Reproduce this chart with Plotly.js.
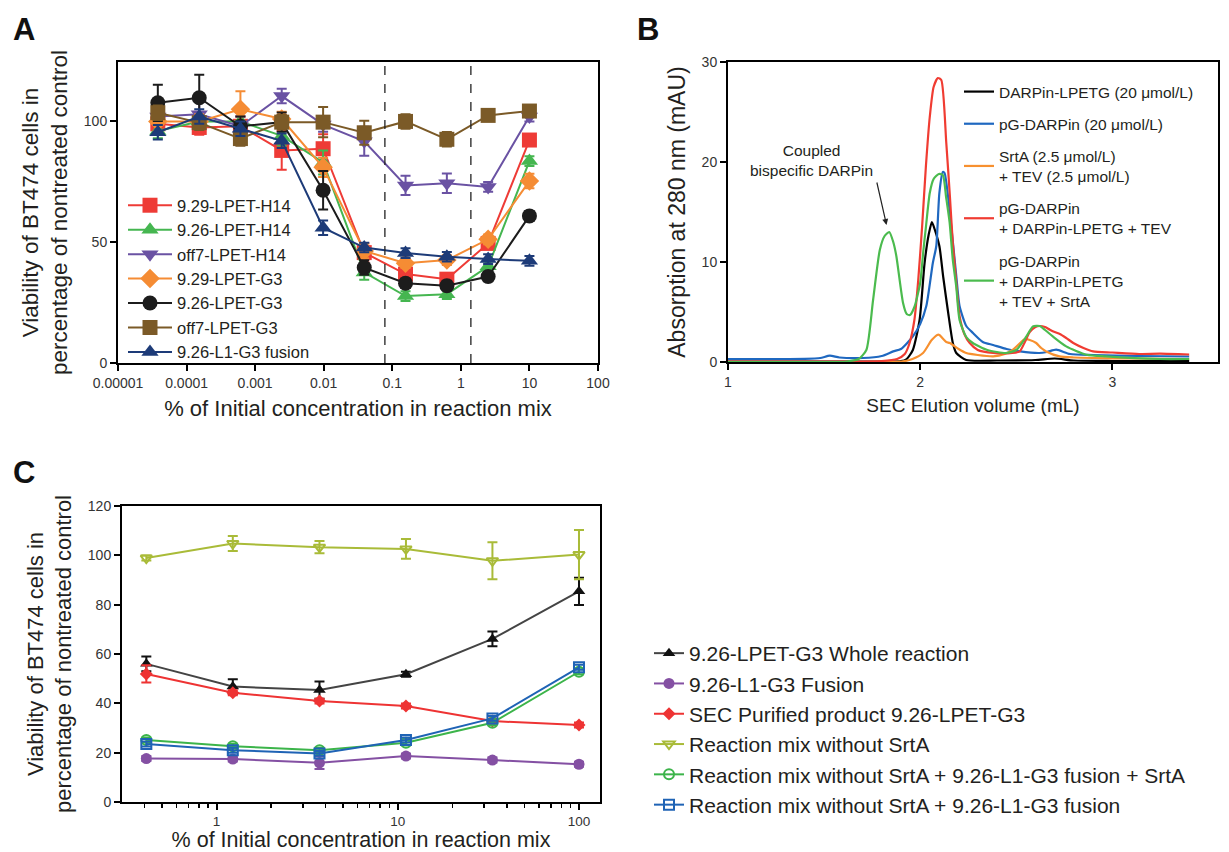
<!DOCTYPE html>
<html>
<head>
<meta charset="utf-8">
<script src="https://cdn.plot.ly/plotly-3.0.1.min.js"></script>
<style>
html,body{margin:0;padding:0;background:#fff;}
#chart{width:1229px;height:852px;}
</style>
</head>
<body>
<div id="chart"></div>
<script>
// ---------- Panel A data ----------
const concA = [0.0000381, 0.000153, 0.00061, 0.00244, 0.0098, 0.039, 0.156, 0.625, 2.5, 10];
const seriesA_names = ["9.29-LPET-H14","9.26-LPET-H14","off7-LPET-H14","9.29-LPET-G3","9.26-LPET-G3","off7-LPET-G3","9.26-L1-G3 fusion"];
const a_929H14 = [99, 97.5, 98, 88, 88.7, 45.7, 36.8, 34.7, 49.5, 92.3];
const a_926H14 = [96, 100, 100, 94, 83, 37.5, 27.7, 28.5, 40, 83.6];
const a_off7H14 = [102, 103, 98, 110.5, 98.7, 91.8, 73.5, 74.4, 72.9, 102];
const a_929G3 = [100, 100, 105, 101, 81, 46.4, 41.3, 42.6, 51.2, 75.3];
const a_926G3 = [107.7, 109.8, 98, 99.7, 71.5, 39.5, 33, 32, 35.8, 60.9];
const a_off7G3 = [103.6, 99.5, 92.9, 99.7, 99.7, 95.3, 100, 92.6, 102.5, 104.3];
const a_926L1 = [95.5, 102, 97, 92, 56, 47.8, 45.5, 44, 43, 42.3];
const e_929H14 = [3, 3, 4, 8, 6, 4, 3, 2, 2, 2];
const e_926H14 = [3, 3, 4, 4, 5, 3, 2, 2, 2, 2];
const e_off7H14 = [3, 5, 4, 3, 3, 6, 4, 4, 2, 2];
const e_929G3 = [4, 3, 7.5, 3, 4, 3, 2, 2, 2, 3];
const e_926G3 = [7.5, 9.5, 4, 4, 8, 3, 2, 2, 2, 2];
const e_off7G3 = [3, 3, 3, 3, 6.3, 5, 3, 3, 2, 2];
const e_926L1 = [3, 3, 3, 3, 3, 2, 2, 2, 2, 2];
const dividersA = [0.078, 1.4];
const tickValsA = [0.00001, 0.0001, 0.001, 0.01, 0.1, 1, 10, 100];
const tickTextA = ["0.00001", "0.0001", "0.001", "0.01", "0.1", "1", "10", "100"];

// ---------- Panel B data ----------
const b_black_x = [1.0, 1.3, 1.6, 1.8, 1.9, 1.93, 1.962, 1.997, 2.023, 2.045, 2.061, 2.075, 2.10, 2.12, 2.146, 2.17, 2.188, 2.24, 2.4, 2.6, 2.7, 2.8, 3.0, 3.4];
const b_black_y = [0.05, 0.05, 0.05, 0.05, 0.08, 0.3, 1.2, 4.2, 9.9, 12.8, 14.0, 13.3, 11.6, 8.5, 4.9, 1.9, 0.9, 0.2, 0.15, 0.2, 0.35, 0.15, 0.1, 0.1];
const b_blue_x = [1.0, 1.2, 1.4, 1.48, 1.53, 1.58, 1.7, 1.8, 1.86, 1.9, 1.962, 2.0, 2.032, 2.066, 2.084, 2.1, 2.118, 2.127, 2.153, 2.188, 2.205, 2.24, 2.275, 2.326, 2.38, 2.45, 2.52, 2.62, 2.66, 2.708, 2.78, 2.9, 3.14, 3.4];
const b_blue_y = [0.3, 0.3, 0.32, 0.4, 0.63, 0.45, 0.4, 0.6, 1.06, 1.3, 2.56, 3.8, 5.6, 9.9, 11.6, 16.9, 19.0, 18.9, 15.2, 8.6, 5.6, 3.6, 2.9, 2.0, 1.7, 1.3, 1.06, 0.9, 1.0, 1.23, 0.8, 0.7, 0.6, 0.55];
const b_orange_x = [1.0, 1.6, 1.91, 1.96, 2.015, 2.06, 2.092, 2.1, 2.136, 2.154, 2.2, 2.24, 2.3, 2.38, 2.44, 2.483, 2.52, 2.544, 2.57, 2.604, 2.63, 2.656, 2.725, 2.8, 2.9, 3.1, 3.4];
const b_orange_y = [0.0, 0.0, 0.06, 0.3, 0.9, 2.2, 2.73, 2.7, 2.0, 1.9, 1.3, 0.9, 0.7, 0.56, 0.8, 1.23, 1.9, 2.3, 2.2, 1.9, 1.4, 1.06, 0.56, 0.45, 0.4, 0.35, 0.3];
const b_red_x = [1.0, 1.5, 1.8, 1.88, 1.92, 1.945, 1.97, 1.99, 2.01, 2.03, 2.05, 2.07, 2.092, 2.11, 2.136, 2.155, 2.17, 2.19, 2.205, 2.23, 2.258, 2.3, 2.38, 2.48, 2.518, 2.545, 2.57, 2.6, 2.622, 2.65, 2.675, 2.7, 2.727, 2.76, 2.797, 2.85, 2.9, 3.0, 3.14, 3.25, 3.4];
const b_red_y = [0.05, 0.05, 0.1, 0.3, 0.8, 1.9, 4.2, 8.2, 13.5, 19.6, 24.5, 27.5, 28.4, 28.2, 21.9, 16.5, 11.9, 7.5, 4.6, 2.8, 1.9, 1.2, 0.9, 0.9, 1.06, 2.0, 3.0, 3.5, 3.6, 3.5, 3.23, 3.0, 2.8, 2.4, 1.9, 1.4, 1.06, 0.95, 0.8, 0.83, 0.75];
const b_green_x = [1.0, 1.4, 1.6, 1.62, 1.68, 1.72, 1.755, 1.79, 1.815, 1.839, 1.86, 1.876, 1.911, 1.93, 1.947, 1.97, 2.0, 2.016, 2.03, 2.05, 2.07, 2.097, 2.118, 2.135, 2.153, 2.17, 2.188, 2.205, 2.24, 2.274, 2.35, 2.447, 2.5, 2.553, 2.587, 2.622, 2.65, 2.69, 2.76, 2.866, 2.967, 3.25, 3.4];
const b_green_y = [0.0, 0.0, 0.0, 0.05, 0.3, 1.2, 6.2, 11.2, 12.6, 13.0, 12.0, 10.6, 5.9, 4.8, 4.7, 5.5, 7.9, 11.0, 13.5, 16.9, 18.3, 18.8, 18.7, 16.5, 14.0, 10.2, 7.5, 4.2, 2.5, 1.9, 1.2, 0.9, 1.2, 2.56, 3.56, 3.6, 3.2, 2.56, 1.56, 0.73, 0.56, 0.3, 0.3];
const b_names = ["DARPin-LPETG (20 μmol/L)", "pG-DARPin (20 μmol/L)", "SrtA (2.5 μmol/L)<br>+ TEV (2.5 μmol/L)", "pG-DARPin<br>+ DARPin-LPETG + TEV", "pG-DARPin<br>+ DARPin-LPETG<br>+ TEV + SrtA"];

// ---------- Panel C data ----------
const concC = [0.41, 1.23, 3.7, 11.1, 33.3, 100];
const c_whole = [56, 46.8, 45.4, 51.8, 66.1, 85.4];
const c_fusion = [17.6, 17.4, 15.9, 18.6, 17, 15.3];
const c_sec = [51.9, 44.3, 40.9, 38.9, 32.8, 31.2];
const c_noSrtA = [98.9, 104.8, 103.3, 102.6, 97.8, 100.3];
const c_noSrtA_fus_SrtA = [25.1, 22.6, 21, 24, 32.1, 52.8];
const c_noSrtA_fus = [23.5, 21, 19.7, 25.1, 33.9, 54.6];
const ce_whole = [3, 3, 3.5, 1, 3, 5.5];
const ce_fusion = [1, 1, 2.5, 1, 1, 1];
const ce_sec = [3.5, 1, 1, 1, 1, 1];
const ce_noSrtA = [1, 3, 2.5, 4, 7.5, 10];
const ce_noSrtA_fus_SrtA = [1, 1, 1, 1, 1, 1];
const ce_noSrtA_fus = [1, 1, 1, 1, 1, 1];
const c_names = ["9.26-LPET-G3 Whole reaction", "9.26-L1-G3 Fusion", "SEC Purified product 9.26-LPET-G3", "Reaction mix without SrtA", "Reaction mix without SrtA + 9.26-L1-G3 fusion + SrtA", "Reaction mix without SrtA + 9.26-L1-G3 fusion"];
const tickValsC = [1, 10, 100];
const minorC = [0.4,0.5,0.6,0.7,0.8,0.9,2,3,4,5,6,7,8,9,20,30,40,50,60,70,80,90];

// ---------- styling ----------
const FONT = 'Arial, "Liberation Sans", Helvetica, sans-serif';
const TXT = '#231f20';

function seriesA(y, err, name, color, symbol, size) {
  return {
    x: concA, y: y, name: name, type: 'scatter', mode: 'lines+markers',
    xaxis: 'x', yaxis: 'y', legend: 'legend',
    line: {color: color, width: 2},
    marker: {color: color, symbol: symbol, size: size},
    error_y: {type: 'data', array: err, visible: true, color: color, thickness: 2, width: 5}
  };
}
function seriesB(x, y, name, color) {
  return {x: x, y: y, name: name, type: 'scatter', mode: 'lines', xaxis: 'x2', yaxis: 'y2', legend: 'legend2',
    legendgroup: name,
    line: {color: color, width: 2.2, shape: 'spline', smoothing: 0.6}};
}
function seriesC(y, err, name, color, lineColor, symbol, size, open) {
  return {
    x: concC, y: y, name: name, type: 'scatter', mode: 'lines+markers',
    xaxis: 'x3', yaxis: 'y3', legend: 'legend3',
    line: {color: lineColor, width: 2},
    marker: {color: open ? 'rgba(255,255,255,0)' : color, symbol: symbol, size: size,
             line: {color: color, width: open ? 2 : 0}},
    error_y: {type: 'data', array: err, visible: true, color: color, thickness: 2, width: 5}
  };
}

const traces = [
  seriesA(a_929H14, e_929H14, seriesA_names[0], '#ee3b36', 'square', 15),
  seriesA(a_926H14, e_926H14, seriesA_names[1], '#45b650', 'triangle-up', 15),
  seriesA(a_off7H14, e_off7H14, seriesA_names[2], '#6a52a3', 'triangle-down', 15),
  seriesA(a_929G3, e_929G3, seriesA_names[3], '#f58c34', 'diamond', 15),
  seriesA(a_926G3, e_926G3, seriesA_names[4], '#1c1c1c', 'circle', 15),
  seriesA(a_off7G3, e_off7G3, seriesA_names[5], '#7b5a27', 'square', 15),
  seriesA(a_926L1, e_926L1, seriesA_names[6], '#1d3b78', 'triangle-up', 15),

  seriesB(b_black_x, b_black_y, b_names[0], '#000000'),
  seriesB(b_blue_x, b_blue_y, b_names[1], '#1f68c0'),
  seriesB(b_orange_x, b_orange_y, b_names[2], '#f7902f'),
  seriesB(b_red_x, b_red_y, b_names[3], '#f03c32'),
  seriesB(b_green_x, b_green_y, b_names[4], '#4bbb4e'),

  seriesC(c_whole, ce_whole, c_names[0], '#111111', '#444444', 'triangle-up', 11, false),
  seriesC(c_fusion, ce_fusion, c_names[1], '#8450a3', '#8450a3', 'circle', 11, false),
  seriesC(c_sec, ce_sec, c_names[2], '#ee3333', '#ee3333', 'diamond', 10, false),
  seriesC(c_noSrtA, ce_noSrtA, c_names[3], '#a9bb38', '#a9bb38', 'triangle-down', 10, true),
  seriesC(c_noSrtA_fus_SrtA, ce_noSrtA_fus_SrtA, c_names[4], '#3cb44a', '#3cb44a', 'circle', 10, true),
  seriesC(c_noSrtA_fus, ce_noSrtA_fus, c_names[5], '#1f63b5', '#1f63b5', 'square', 10, true)
];

const axisBase = {
  showline: true, linecolor: '#000', linewidth: 2, mirror: true,
  ticks: 'outside', ticklen: 6, tickwidth: 2, tickcolor: '#000',
  showgrid: false, zeroline: false,
  tickfont: {family: FONT, size: 14, color: '#333'}
};

const layout = {
  width: 1229, height: 852,
  margin: {l: 0, r: 0, t: 0, b: 0},
  paper_bgcolor: '#fff', plot_bgcolor: '#fff',
  font: {family: FONT, color: TXT},
  showlegend: true,
  xaxis: Object.assign({}, axisBase, {
    domain: [118/1229, 598/1229], anchor: 'y', type: 'log', range: [-5, 2],
    tickvals: tickValsA, ticktext: tickTextA,
    title: {text: '% of Initial concentration in reaction mix', font: {size: 22, color: TXT}, standoff: 11}
  }),
  yaxis: Object.assign({}, axisBase, {
    domain: [1-363/852, 1-62/852], anchor: 'x', range: [0, 124.6],
    tickvals: [0, 50, 100],
    title: {text: 'Viability of BT474 cells in<br>percentage of nontreated control', font: {size: 22.5, color: TXT}, standoff: 10}
  }),
  xaxis2: Object.assign({}, axisBase, {
    domain: [728/1229, 1218/1229], anchor: 'y2', range: [1, 3.55],
    tickvals: [1, 2, 3],
    title: {text: 'SEC Elution volume (mL)', font: {size: 19, color: TXT}, standoff: 10}
  }),
  yaxis2: Object.assign({}, axisBase, {
    domain: [1-362/852, 1-62/852], anchor: 'x2', range: [0, 30],
    tickvals: [0, 10, 20, 30],
    title: {text: 'Absorption at 280 nm (mAU)', font: {size: 23, color: TXT}, standoff: 10}
  }),
  xaxis3: Object.assign({}, axisBase, {
    domain: [122/1229, 600/1229], anchor: 'y3', type: 'log', range: [Math.log10(0.301), Math.log10(130.6)],
    tickvals: tickValsC, ticktext: ['1', '10', '100'],
    tickfont: {family: FONT, size: 13.5, color: '#333'},
    minor: {tickvals: minorC, ticks: 'outside', ticklen: 4, tickwidth: 1.5, tickcolor: '#000'},
    title: {text: '% of Initial concentration in reaction mix', font: {size: 21.5, color: TXT}, standoff: 6}
  }),
  yaxis3: Object.assign({}, axisBase, {
    domain: [1-802/852, 1-506/852], anchor: 'x3', range: [0, 120],
    tickvals: [0, 20, 40, 60, 80, 100, 120],
    title: {text: 'Viability of BT474 cells in<br>percentage of nontreated control', font: {size: 22, color: TXT}, standoff: 10}
  }),
  legend: {x: 123/1229, xanchor: 'left', y: 1-188/852, yanchor: 'top', bgcolor: 'rgba(0,0,0,0)',
           font: {size: 16.5, color: TXT}, itemwidth: 44},
  legend2: {x: 959/1229, xanchor: 'left', y: 1-75/852, yanchor: 'top', bgcolor: 'rgba(0,0,0,0)',
            font: {size: 15.5, color: TXT}, itemwidth: 30, valign: 'middle', tracegroupgap: 9},
  legend3: {x: 649/1229, xanchor: 'left', y: 1-633/852, yanchor: 'top', bgcolor: 'rgba(0,0,0,0)',
            font: {size: 21, color: TXT}, itemwidth: 30},
  shapes: dividersA.map(v => ({type: 'line', xref: 'x', yref: 'y', x0: v, x1: v, y0: 0, y1: 124.6,
                                line: {color: '#222', width: 1.3, dash: 'dash'}})),
  annotations: [
    {text: '<b>A</b>', xref: 'paper', yref: 'paper', x: 24/1229, y: 1-30/852, xanchor: 'center', yanchor: 'middle', showarrow: false, font: {size: 31, color: '#111'}},
    {text: '<b>B</b>', xref: 'paper', yref: 'paper', x: 648/1229, y: 1-30/852, xanchor: 'center', yanchor: 'middle', showarrow: false, font: {size: 31, color: '#111'}},
    {text: '<b>C</b>', xref: 'paper', yref: 'paper', x: 24/1229, y: 1-473/852, xanchor: 'center', yanchor: 'middle', showarrow: false, font: {size: 31, color: '#111'}},
    {text: 'Coupled<br>bispecific DARPin', xref: 'paper', yref: 'paper', x: 811/1229, y: 1-160/852,
     xanchor: 'center', yanchor: 'middle', showarrow: false, font: {size: 15.5, color: TXT}},
    {text: '', xref: 'x2', yref: 'y2', x: 1.825, y: 13.7, ax: -10, ay: -44, showarrow: true,
     arrowhead: 2, arrowsize: 1, arrowwidth: 1.2, arrowcolor: '#222'}
  ]
};

Plotly.newPlot('chart', traces, layout, {displayModeBar: false, staticPlot: true});
</script>
</body>
</html>
